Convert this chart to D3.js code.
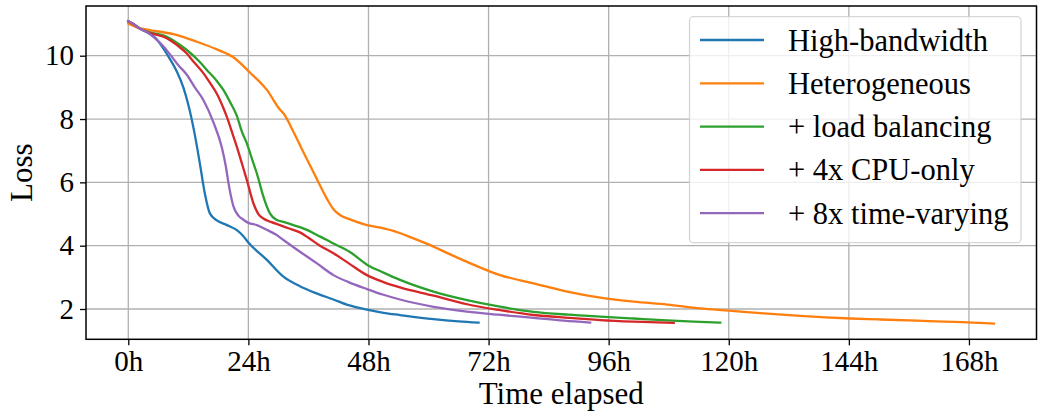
<!DOCTYPE html>
<html><head><meta charset="utf-8">
<script src="https://cdn.jsdelivr.net/npm/d3@7"></script>
<style>body{margin:0;background:#fff}svg{display:block}</style>
</head><body>
<svg id="c" width="1038" height="414"></svg>
<script>
const seriesNames = ["High-bandwidth","Heterogeneous","+ load balancing","+ 4x CPU-only","+ 8x time-varying"];
const seriesColors = ["#1f77b4","#ff7f0e","#2ca02c","#d62728","#9467bd"];
const xTicks = [0,24,48,72,96,120,144,168];
const xTickLabels = ["0h","24h","48h","72h","96h","120h","144h","168h"];
const yTicks = [2,4,6,8,10];

const blueHours = [0,1,2.3,4,5.5,7,8.3,9.7,11,12,13.3,14.3,15.3,16.3,17.7,19.7,21.7,23,24,27.7,31,34.3,37.5,41,44,47.7,51,54.3,61,66,70];
const blueLoss  = [11.09,11.0,10.86,10.72,10.55,10.23,9.9,9.5,9.0,8.45,7.5,6.6,5.65,5.02,4.8,4.65,4.49,4.3,4.1,3.55,3.02,2.72,2.5,2.3,2.12,1.98,1.88,1.81,1.68,1.61,1.57];

const orangeHours = [0,2,4.3,9,13.7,17.7,21,24.3,27.7,30.3,31,33,35,37.7,39.7,41,42.3,44.3,47.7,51,53,57,61,64,67.7,74.3,81,87.7,94.3,101,107.7,114.3,120,127,134.3,144.3,150,157.7,163,167.7,173];
const orangeLoss  = [11.02,10.88,10.81,10.68,10.44,10.2,9.95,9.47,8.92,8.3,8.18,7.6,6.95,6.1,5.48,5.15,4.97,4.83,4.65,4.55,4.47,4.23,3.97,3.75,3.49,3.07,2.81,2.55,2.36,2.23,2.14,2.02,1.95,1.86,1.78,1.7,1.67,1.63,1.6,1.58,1.54];

const greenHours = [0,1,2.3,4.3,7.7,10,11.7,14.3,15.7,17.7,19,20.3,21.7,22.7,23.7,24.7,25.7,27,28.3,29.7,31,33,35.7,37.7,39.7,41,44.3,47.7,51,54.3,61,67.7,74,81,88,94.3,101,107.7,113,118.3];
const greenLoss  = [11.09,11.0,10.86,10.74,10.6,10.38,10.18,9.8,9.55,9.2,8.92,8.55,8.1,7.6,7.23,6.75,6.28,5.55,5.02,4.81,4.75,4.65,4.5,4.34,4.18,4.07,3.8,3.4,3.15,2.92,2.55,2.28,2.08,1.91,1.82,1.76,1.7,1.64,1.6,1.57];

const redHours = [0,1,2.3,4.3,7.7,10,11.7,13,15,16.5,17.7,19,19.7,20.7,21.7,22.7,23.7,25,26,27,28.5,30.3,32,34.3,36,38.3,41,44,47.7,51,54.3,61,67.7,74,81,88,94.3,101,109];
const redLoss  = [11.09,11.0,10.86,10.72,10.55,10.3,10.07,9.82,9.45,9.1,8.8,8.35,8.07,7.6,7.12,6.6,6.07,5.34,5.0,4.86,4.75,4.65,4.55,4.42,4.25,4.0,3.76,3.45,3.07,2.85,2.68,2.42,2.15,1.97,1.81,1.72,1.65,1.6,1.56];

const purpleHours = [0,1,2.3,4,5.7,7,8.3,10,11.7,13.3,15,17,18.7,19.5,20,21,22,23,24,25.7,27.7,29.5,31,34.3,37.7,41,44,47.7,51,54.3,61,67.7,74,81,87,92.3];
const purpleLoss  = [11.09,11.0,10.86,10.72,10.5,10.3,10.05,9.7,9.4,9.0,8.6,7.9,7.1,6.5,6.0,5.25,4.95,4.82,4.72,4.65,4.5,4.35,4.18,3.81,3.44,3.07,2.85,2.63,2.45,2.3,2.07,1.92,1.82,1.72,1.63,1.57];

const seriesHours = [blueHours, orangeHours, greenHours, redHours, purpleHours];
const seriesLoss = [blueLoss, orangeLoss, greenLoss, redLoss, purpleLoss];

const svg = d3.select("#c");
const L = 86, R = 1036.5, T = 6, B = 339.3;
const x = d3.scaleLinear().domain([-8.45, 181.5]).range([L, R]);
const y = d3.scaleLinear().domain([1.043, 11.57]).range([B, T]);
const font = "'Liberation Serif', 'Times New Roman', serif";

// grid
const g = svg.append("g");
g.selectAll(".gx").data(xTicks).enter().append("line")
  .attr("x1", d => x(d)).attr("x2", d => x(d)).attr("y1", T).attr("y2", B)
  .attr("stroke", "#b0b0b0").attr("stroke-width", 1.3);
g.selectAll(".gy").data(yTicks).enter().append("line")
  .attr("y1", d => y(d)).attr("y2", d => y(d)).attr("x1", L).attr("x2", R)
  .attr("stroke", "#b0b0b0").attr("stroke-width", 1.3);

// lines
const line = d3.line().curve(d3.curveMonotoneX);
seriesHours.forEach((hrs, i) => {
  const pts = hrs.map((h, j) => [x(h), y(seriesLoss[i][j])]);
  svg.append("path").attr("d", line(pts)).attr("fill", "none")
    .attr("stroke", seriesColors[i]).attr("stroke-width", 2.3)
    .attr("stroke-linejoin", "round").attr("stroke-linecap", "square");
});

// axes
const xAxis = d3.axisBottom(x).tickValues(xTicks).tickFormat((d, i) => xTickLabels[i]).tickSize(6).tickPadding(5);
const yAxis = d3.axisLeft(y).tickValues(yTicks).tickSize(6).tickPadding(6);
const gx = svg.append("g").attr("transform", `translate(0,${B})`).call(xAxis);
const gy = svg.append("g").attr("transform", `translate(${L},0)`).call(yAxis);
[gx, gy].forEach(a => {
  a.select(".domain").remove();
  a.selectAll(".tick line").attr("stroke", "#000").attr("stroke-width", 1.3);
  a.selectAll(".tick text").attr("font-family", font).attr("font-size", 29).attr("fill", "#000");
});

// frame
svg.append("rect").attr("x", L).attr("y", T).attr("width", R - L).attr("height", B - T)
  .attr("fill", "none").attr("stroke", "#000").attr("stroke-width", 1.5);

// axis labels
svg.append("text").attr("x", (L + R) / 2).attr("y", 404).attr("text-anchor", "middle")
  .attr("font-family", font).attr("font-size", 31).text("Time elapsed");
svg.append("text").attr("transform", `translate(32,${(T + B) / 2}) rotate(-90)`).attr("text-anchor", "middle")
  .attr("font-family", font).attr("font-size", 31).text("Loss");

// legend
const lg = svg.append("g");
lg.append("rect").attr("x", 689.5).attr("y", 16.7).attr("width", 331.5).attr("height", 226)
  .attr("rx", 4).attr("fill", "#fff").attr("fill-opacity", 0.8)
  .attr("stroke", "#cccccc").attr("stroke-opacity", 0.8).attr("stroke-width", 1.3);
seriesNames.forEach((n, i) => {
  const yy = 40 + i * 43.3;
  lg.append("line").attr("x1", 700).attr("x2", 764).attr("y1", yy).attr("y2", yy)
    .attr("stroke", seriesColors[i]).attr("stroke-width", 2.3);
  lg.append("text").attr("x", 788).attr("y", yy + 10.5).attr("font-family", font)
    .attr("font-size", 30.5).attr("fill", "#000").text(n);
});
</script>
</body></html>
